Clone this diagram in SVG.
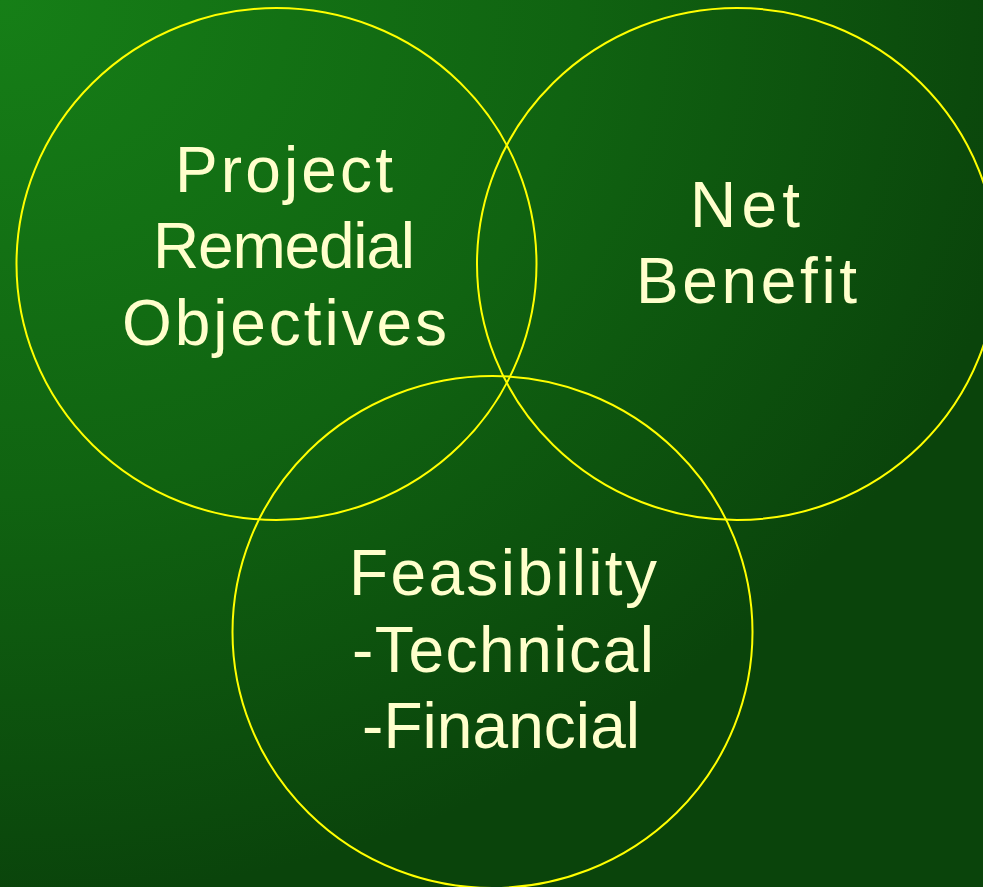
<svg xmlns="http://www.w3.org/2000/svg" width="983" height="887" viewBox="0 0 983 887">
  <defs>
    <radialGradient id="bg" gradientUnits="userSpaceOnUse" cx="0" cy="0" r="1000" gradientTransform="scale(1.05,0.9)">
      <stop offset="0" stop-color="#167f17"/>
      <stop offset="0.55" stop-color="#106311"/>
      <stop offset="1" stop-color="#0a440b"/>
    </radialGradient>
  </defs>
  <style>
    .ring { fill: none; stroke: #ffff00; stroke-width: 2; }
    .label { font-family: "Liberation Sans", Arial, sans-serif; font-size: 64px; fill: #ffffcc; text-anchor: middle; }
  </style>

  <!-- backdrop -->
  <rect x="0" y="0" width="983" height="887" fill="url(#bg)"/>

  <!-- three overlapping sets -->
  <g id="objectives">
    <ellipse class="ring" cx="276.5" cy="264" rx="260" ry="256"/>
    <text class="label" x="284" y="192" textLength="218" lengthAdjust="spacing">Project</text>
    <text class="label" x="284" y="268" textLength="262" lengthAdjust="spacing">Remedial</text>
    <text class="label" x="284.5" y="345" textLength="325" lengthAdjust="spacing">Objectives</text>
  </g>

  <g id="net-benefit">
    <ellipse class="ring" cx="737" cy="264" rx="260" ry="256"/>
    <text class="label" x="745" y="227" textLength="110" lengthAdjust="spacing">Net</text>
    <text class="label" x="746.5" y="303" textLength="221" lengthAdjust="spacing">Benefit</text>
  </g>

  <g id="feasibility">
    <ellipse class="ring" cx="492.5" cy="632" rx="260" ry="256"/>
    <text class="label" x="503" y="595" textLength="308" lengthAdjust="spacing">Feasibility</text>
    <text class="label" x="503" y="672" textLength="302" lengthAdjust="spacing">-Technical</text>
    <text class="label" x="501" y="748" textLength="278" lengthAdjust="spacing">-Financial</text>
  </g>

  <g id="connectors"></g>
</svg>
